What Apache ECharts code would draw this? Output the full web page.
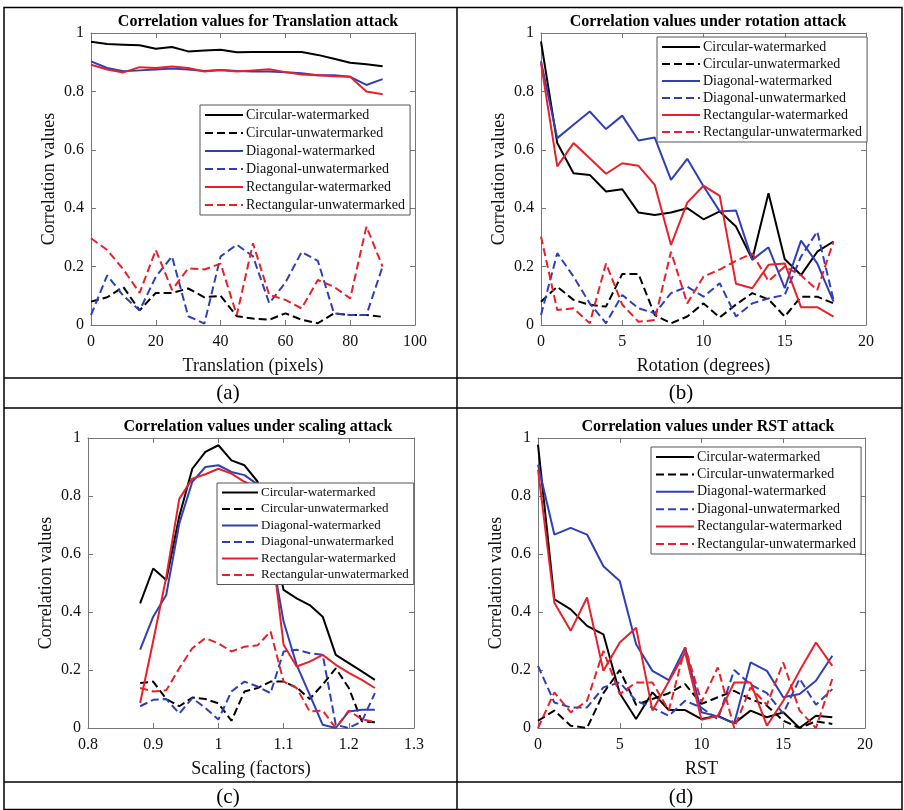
<!DOCTYPE html>
<html>
<head>
<meta charset="utf-8">
<script src="https://cdn.jsdelivr.net/npm/echarts@6/dist/echarts.min.js"></script>
<style>html,body{margin:0;padding:0;background:#fff;}#c{width:904px;height:810px;}</style>
</head>
<body>
<div id="c"></div>
<script>
// ---------- DATA ----------
const seriesNames = ['Circular-watermarked','Circular-unwatermarked','Diagonal-watermarked','Diagonal-unwatermarked','Rectangular-watermarked','Rectangular-unwatermarked'];

// (a) Translation
const xTrans = [0,5,10,15,20,25,30,35,40,45,50,55,60,65,70,75,80,85,90];
const transCircW = [0.97,0.962,0.96,0.958,0.946,0.952,0.937,0.94,0.943,0.934,0.935,0.935,0.935,0.935,0.925,0.912,0.898,0.893,0.886];
const transCircU = [0.08,0.095,0.13,0.05,0.11,0.11,0.125,0.095,0.1,0.03,0.022,0.018,0.04,0.018,0.006,0.04,0.034,0.034,0.028];
const transDiagW = [0.903,0.88,0.869,0.872,0.875,0.878,0.875,0.87,0.873,0.87,0.868,0.868,0.866,0.862,0.855,0.855,0.85,0.822,0.842];
const transDiagU = [0.034,0.17,0.1,0.05,0.165,0.235,0.03,0.005,0.235,0.275,0.235,0.075,0.145,0.25,0.22,0.04,0.034,0.034,0.2];
const transRectW = [0.891,0.875,0.865,0.883,0.88,0.885,0.88,0.868,0.873,0.868,0.872,0.876,0.866,0.858,0.855,0.852,0.85,0.8,0.79];
const transRectU = [0.297,0.257,0.19,0.11,0.257,0.12,0.194,0.19,0.21,0.034,0.28,0.103,0.086,0.057,0.154,0.131,0.091,0.337,0.2];

// (b) Rotation
const xRot = [0,1,2,3,4,5,6,7,8,9,10,11,12,13,14,15,16,17,18];
const rotCircW = [0.971,0.623,0.52,0.514,0.457,0.465,0.385,0.377,0.385,0.4,0.362,0.389,0.337,0.225,0.451,0.225,0.171,0.251,0.286];
const rotCircU = [0.08,0.131,0.086,0.069,0.063,0.175,0.175,0.034,0.006,0.029,0.074,0.026,0.07,0.109,0.088,0.029,0.097,0.097,0.074];
const rotDiagW = [0.903,0.64,0.686,0.731,0.671,0.717,0.632,0.642,0.497,0.569,0.475,0.389,0.392,0.223,0.266,0.126,0.289,0.211,0.08];
const rotDiagU = [0.034,0.246,0.166,0.074,0.006,0.103,0.057,0.04,0.109,0.131,0.097,0.143,0.029,0.074,0.091,0.103,0.234,0.32,0.086];
const rotRectW = [0.897,0.543,0.623,0.571,0.518,0.554,0.545,0.48,0.274,0.419,0.477,0.442,0.141,0.126,0.206,0.211,0.061,0.061,0.029];
const rotRectU = [0.303,0.051,0.057,0.006,0.211,0.07,0.011,0.017,0.251,0.074,0.166,0.19,0.22,0.245,0.15,0.2,0.17,0.12,0.286];

// (c) Scaling
const xScale = [0.88,0.90,0.92,0.94,0.96,0.98,1.00,1.02,1.04,1.06,1.08,1.10,1.12,1.14,1.16,1.18,1.20,1.22,1.24];
const scaleCircW = [0.43,0.55,0.51,0.73,0.894,0.952,0.975,0.923,0.906,0.85,0.68,0.476,0.447,0.424,0.384,0.252,0.224,0.195,0.166];
const scaleCircU = [0.155,0.16,0.1,0.075,0.105,0.1,0.085,0.025,0.126,0.138,0.16,0.16,0.14,0.1,0.15,0.206,0.138,0.023,0.02];
const scaleDiagW = [0.27,0.384,0.459,0.705,0.849,0.9,0.906,0.883,0.872,0.84,0.62,0.367,0.218,0.115,0.011,0.0,0.057,0.063,0.063];
const scaleDiagU = [0.075,0.097,0.1,0.05,0.103,0.069,0.029,0.126,0.16,0.143,0.12,0.264,0.27,0.258,0.252,0.011,0.0,0.023,0.12];
const scaleRectW = [0.086,0.3,0.52,0.79,0.86,0.875,0.894,0.877,0.849,0.83,0.66,0.287,0.212,0.229,0.252,0.218,0.19,0.166,0.138];
const scaleRectU = [0.138,0.126,0.13,0.206,0.275,0.31,0.292,0.264,0.28,0.285,0.333,0.16,0.138,0.057,0.06,0.0,0.06,0.03,0.02];

// (d) RST
const xRST = [0,1,2,3,4,5,6,7,8,9,10,11,12,13,14,15,16,17,18];
const rstCircW = [0.977,0.444,0.409,0.352,0.323,0.12,0.031,0.123,0.062,0.062,0.031,0.042,0.016,0.06,0.037,0.054,0.0,0.042,0.037];
const rstCircU = [0.025,0.06,0.008,0.0,0.12,0.2,0.08,0.1,0.12,0.151,0.083,0.106,0.128,0.1,0.077,0.025,0.0,0.023,0.014];
const rstDiagW = [0.908,0.667,0.69,0.667,0.558,0.507,0.289,0.197,0.165,0.278,0.054,0.04,0.016,0.226,0.197,0.106,0.117,0.163,0.249];
const rstDiagU = [0.214,0.088,0.071,0.071,0.14,0.157,0.094,0.07,0.042,0.094,0.07,0.03,0.2,0.15,0.12,0.05,0.17,0.08,0.134];
const rstRectW = [0.891,0.432,0.335,0.45,0.197,0.295,0.346,0.06,0.16,0.26,0.028,0.042,0.157,0.157,0.008,0.094,0.197,0.295,0.214];
const rstRectU = [0.0,0.123,0.054,0.094,0.266,0.117,0.157,0.157,0.06,0.278,0.09,0.209,0.0,0.14,0.08,0.226,0.06,0.0,0.169];

const panelTitles = ['Correlation values for Translation attack','Correlation values under rotation attack','Correlation values under scaling attack','Correlation values under RST attack'];
const xNames = ['Translation (pixels)','Rotation (degrees)','Scaling (factors)','RST'];
const yName = 'Correlation values';
const panelLabels = ['(a)','(b)','(c)','(d)'];

// ---------- BUILD ----------
const FONT = 'Liberation Serif';
const BLACK = '#000000', BLUE = '#2f3fb8', RED = '#e8202a';
const colors = [BLACK, BLACK, BLUE, BLUE, RED, RED];
const dashes = ['solid','dashed','solid','dashed','solid','dashed'];

const panels = [
  {x: xTrans, ys: [transCircW,transCircU,transDiagW,transDiagU,transRectW,transRectU], min:0, max:100, interval:20,
   grid:{left:91, top:33, width:324, height:292}, legend:{left:200, top:105, gap:4, fs:14, iw:38}, tx:253, ty:9, lx:228, ly:393},
  {x: xRot, ys: [rotCircW,rotCircU,rotDiagW,rotDiagU,rotRectW,rotRectU], min:0, max:20, interval:5,
   grid:{left:541, top:33, width:325, height:292}, legend:{left:657, top:37, gap:3, fs:14, iw:38}, tx:703, ty:9, lx:681, ly:393},
  {x: xScale, ys: [scaleCircW,scaleCircU,scaleDiagW,scaleDiagU,scaleRectW,scaleRectU], min:0.8, max:1.3, interval:0.1,
   grid:{left:88, top:438, width:326, height:290}, legend:{left:217, top:483, gap:3.5, fs:13, iw:36}, tx:253, ty:414, lx:228, ly:797},
  {x: xRST, ys: [rstCircW,rstCircU,rstDiagW,rstDiagU,rstRectW,rstRectU], min:0, max:20, interval:5,
   grid:{left:538, top:438, width:327, height:290}, legend:{left:651, top:447, gap:3.4, fs:14, iw:38}, tx:703, ty:414, lx:681, ly:797}
];

const grid = [], xAxis = [], yAxis = [], series = [], legend = [], title = [], graphic = [];
const axisLineStyle = {color:'#777', width:1};
const tickStyle = {color:'#777', width:1};

panels.forEach((p, i) => {
  grid.push(p.grid);
  xAxis.push({
    type:'value', gridIndex:i, min:p.min, max:p.max, interval:p.interval,
    name:xNames[i], nameLocation:'middle', nameGap:32,
    nameTextStyle:{fontFamily:FONT, fontSize:18, color:'#111'},
    axisLine:{show:true, onZero:false, lineStyle:axisLineStyle},
    axisTick:{show:true, inside:true, length:5, lineStyle:tickStyle},
    axisLabel:{fontFamily:FONT, fontSize:16, color:'#111', margin:9},
    splitLine:{show:false}
  });
  xAxis.push({
    type:'value', gridIndex:i, min:p.min, max:p.max, interval:p.interval, position:'top',
    axisLine:{show:true, onZero:false, lineStyle:axisLineStyle},
    axisTick:{show:true, inside:true, length:5, lineStyle:tickStyle},
    axisLabel:{show:false}, splitLine:{show:false}
  });
  yAxis.push({
    type:'value', gridIndex:i, min:0, max:1, interval:0.2,
    name:yName, nameLocation:'middle', nameGap:33,
    nameTextStyle:{fontFamily:FONT, fontSize:18, color:'#111'},
    axisLine:{show:true, onZero:false, lineStyle:axisLineStyle},
    axisTick:{show:true, inside:true, length:5, lineStyle:tickStyle},
    axisLabel:{fontFamily:FONT, fontSize:16, color:'#111', margin:7},
    splitLine:{show:false}
  });
  yAxis.push({
    type:'value', gridIndex:i, min:0, max:1, interval:0.2, position:'right',
    axisLine:{show:true, onZero:false, lineStyle:axisLineStyle},
    axisTick:{show:true, inside:true, length:5, lineStyle:tickStyle},
    axisLabel:{show:false}, splitLine:{show:false}
  });
  p.ys.forEach((vals, k) => {
    series.push({
      type:'line', name:seriesNames[k], xAxisIndex:2*i, yAxisIndex:2*i,
      data: p.x.map((xv, j) => [xv, vals[j]]),
      symbol:'none', showSymbol:false, clip:true, animation:false,
      lineStyle:{color:colors[k], width:2, type:dashes[k]},
      itemStyle:{color:colors[k]}, z:3
    });
  });
  legend.push({
    data:seriesNames, orient:'vertical', left:p.legend.left, top:p.legend.top,
    itemWidth:p.legend.iw, itemHeight:13, itemGap:p.legend.gap,
    backgroundColor:'#ffffff', borderColor:'#555', borderWidth:1, borderRadius:0,
    padding:[3,5,3,4], selectedMode:false,
    itemStyle:{opacity:0, borderWidth:0},
    textStyle:{fontFamily:FONT, fontSize:p.legend.fs, color:'#111', padding:[0,0,0,-2]}
  });
  title.push({
    text:panelTitles[i], left:p.tx, top:p.ty, textAlign:'center',
    textStyle:{fontFamily:FONT, fontSize:16, fontWeight:'bold', color:'#000'}
  });
  graphic.push({
    type:'text', x:p.lx, y:p.ly, silent:true,
    style:{text:panelLabels[i], font:'21px "Liberation Serif"', fill:'#000', textAlign:'center', textVerticalAlign:'middle'}
  });
});

// table frame
const lineStyleFrame = {stroke:'#000', lineWidth:1.5};
graphic.push({type:'rect', shape:{x:4, y:7.5, width:898, height:802}, style:{fill:'none', stroke:'#000', lineWidth:1.5}, silent:true});
graphic.push({type:'line', shape:{x1:457, y1:7, x2:457, y2:810}, style:lineStyleFrame, silent:true});
[378, 408, 782].forEach(yv => graphic.push({type:'line', shape:{x1:4, y1:yv, x2:902, y2:yv}, style:lineStyleFrame, silent:true}));

const chart = echarts.init(document.getElementById('c'), null, {renderer:'canvas'});
chart.setOption({
  backgroundColor:'#ffffff', animation:false,
  title, grid, xAxis, yAxis, series, legend, graphic
});
</script>
</body>
</html>
